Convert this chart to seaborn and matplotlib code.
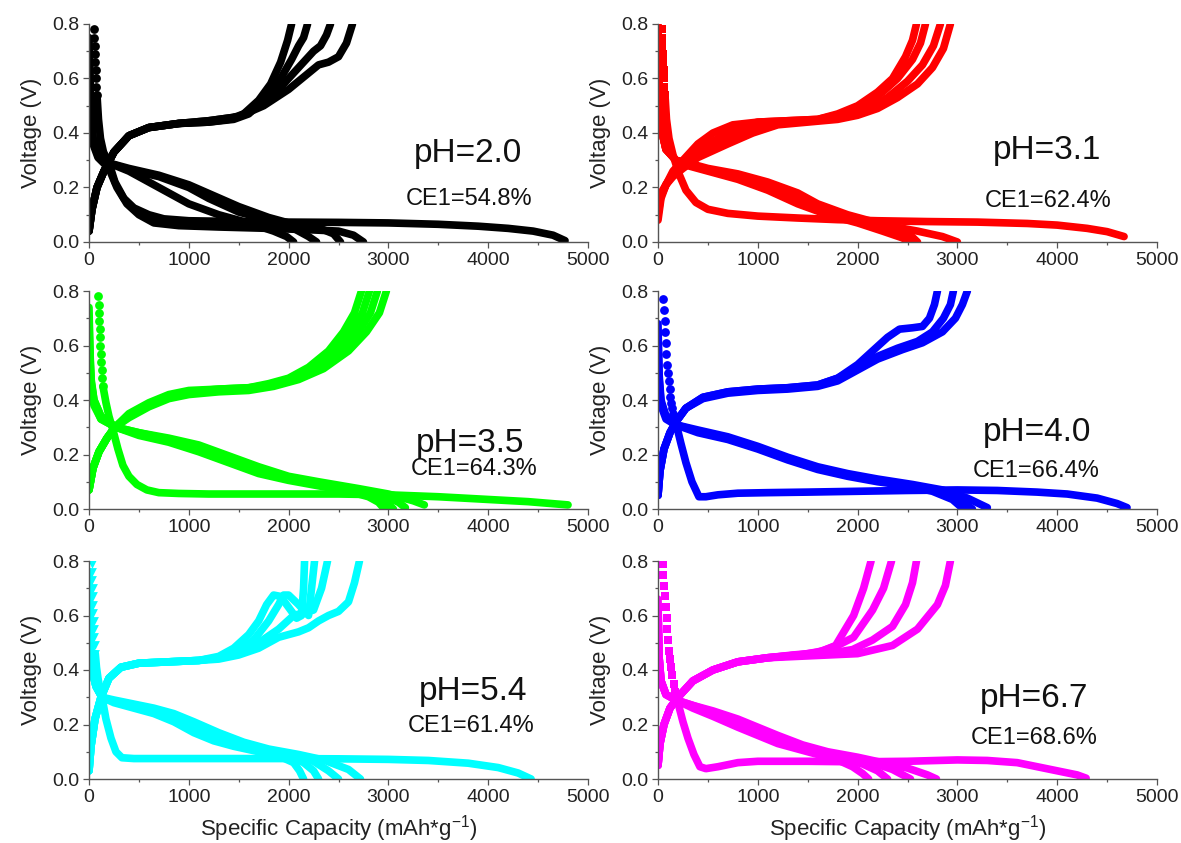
import matplotlib
matplotlib.use("Agg")
import matplotlib.pyplot as plt
import seaborn as sns
import pandas as pd
from matplotlib.ticker import MultipleLocator

sns.set_theme(style="white")
plt.rcParams["font.family"] = ["Liberation Sans", "DejaVu Sans"]

# ---------------- data ----------------
PH_LABELS = ["pH=2.0", "pH=3.1", "pH=3.5", "pH=4.0", "pH=5.4", "pH=6.7"]
CE_LABELS = ["CE1=54.8%", "CE1=62.4%", "CE1=64.3%", "CE1=66.4%", "CE1=61.4%", "CE1=68.6%"]
COLORS = ["#000000", "#FF0000", "#00FF00", "#0000FF", "#00FFFF", "#FF00FF"]
MARKERS = ["o", "s", "o", "o", "v", "s"]

# ---- pH 2.0 ----
PH20_DOTS_X = [50, 53, 56, 59, 62, 66, 70, 75, 80]
PH20_DOTS_Y = [0.78, 0.75, 0.72, 0.69, 0.66, 0.63, 0.60, 0.57, 0.54]
PH20_FIRST_X = [80, 95, 115, 145, 200, 260, 350, 450, 600, 750, 1000, 1500, 2000, 2500, 3000, 3500, 3900, 4200, 4450, 4650, 4770]
PH20_FIRST_Y = [0.54, 0.45, 0.38, 0.33, 0.29, 0.22, 0.16, 0.125, 0.10, 0.085, 0.078, 0.075, 0.073, 0.072, 0.070, 0.065, 0.058, 0.050, 0.040, 0.025, 0.005]
PH20_DIS_X = [
    [0, 15, 40, 90, 200, 400, 600, 800, 1000, 1300, 1600, 1850, 1980, 2050],
    [0, 15, 40, 90, 200, 400, 700, 1000, 1200, 1500, 1800, 2050, 2200, 2280],
    [0, 15, 40, 90, 200, 400, 700, 1000, 1250, 1500, 1800, 2100, 2350, 2450, 2520],
    [0, 15, 40, 90, 200, 280, 380, 500, 650, 900, 1300, 1800, 2200, 2500, 2650, 2750],
]
PH20_DIS_Y = [
    [0.70, 0.50, 0.38, 0.32, 0.29, 0.26, 0.22, 0.18, 0.14, 0.10, 0.07, 0.04, 0.02, 0.0],
    [0.72, 0.50, 0.38, 0.32, 0.29, 0.265, 0.24, 0.20, 0.16, 0.11, 0.08, 0.05, 0.02, 0.0],
    [0.75, 0.52, 0.38, 0.32, 0.29, 0.27, 0.245, 0.21, 0.17, 0.13, 0.09, 0.06, 0.045, 0.03, 0.0],
    [0.65, 0.45, 0.36, 0.31, 0.27, 0.20, 0.14, 0.10, 0.07, 0.06, 0.055, 0.05, 0.045, 0.04, 0.025, 0.0],
]
PH20_CHG_X = [
    [0, 30, 80, 150, 250, 400, 600, 900, 1200, 1400, 1550, 1700, 1820, 1920, 1990, 2030],
    [0, 30, 80, 150, 250, 400, 600, 900, 1200, 1450, 1600, 1780, 1920, 2030, 2100, 2150, 2190],
    [0, 30, 80, 150, 250, 400, 600, 900, 1200, 1500, 1700, 1900, 2100, 2250, 2320, 2380, 2420],
    [0, 30, 80, 150, 250, 400, 600, 900, 1200, 1500, 1750, 2000, 2200, 2300, 2400, 2500, 2580, 2640],
]
PH20_CHG_Y = [
    [0.04, 0.12, 0.20, 0.26, 0.33, 0.39, 0.42, 0.435, 0.44, 0.45, 0.47, 0.52, 0.58, 0.66, 0.74, 0.80],
    [0.04, 0.12, 0.20, 0.26, 0.33, 0.39, 0.42, 0.435, 0.44, 0.45, 0.47, 0.53, 0.60, 0.67, 0.72, 0.75, 0.80],
    [0.04, 0.12, 0.20, 0.26, 0.33, 0.39, 0.42, 0.435, 0.445, 0.46, 0.50, 0.56, 0.64, 0.70, 0.72, 0.76, 0.80],
    [0.04, 0.12, 0.20, 0.26, 0.33, 0.39, 0.42, 0.435, 0.445, 0.46, 0.50, 0.56, 0.62, 0.65, 0.66, 0.68, 0.73, 0.80],
]

# ---- pH 3.1 ----
PH31_DOTS_X = [40, 42, 45, 48, 52, 56, 60, 65, 70]
PH31_DOTS_Y = [0.78, 0.75, 0.72, 0.69, 0.66, 0.63, 0.60, 0.57, 0.54]
PH31_FIRST_X = [70, 85, 110, 150, 210, 280, 380, 500, 700, 1000, 1400, 1800, 2200, 2700, 3200, 3700, 4000, 4300, 4500, 4670]
PH31_FIRST_Y = [0.54, 0.45, 0.38, 0.32, 0.25, 0.19, 0.145, 0.12, 0.105, 0.095, 0.088, 0.082, 0.078, 0.075, 0.073, 0.068, 0.062, 0.050, 0.038, 0.020]
PH31_DIS_X = [
    [0, 10, 30, 80, 180, 300, 500, 800, 1100, 1400, 1700, 2000, 2250, 2450, 2520],
    [0, 10, 30, 80, 180, 300, 500, 800, 1100, 1400, 1600, 1900, 2200, 2450, 2560],
    [0, 10, 30, 80, 180, 300, 500, 800, 1100, 1400, 1600, 1900, 2200, 2500, 2600],
    [0, 10, 30, 80, 180, 300, 500, 800, 1100, 1400, 1700, 2000, 2300, 2600, 2850, 3000],
]
PH31_DIS_Y = [
    [0.80, 0.55, 0.42, 0.34, 0.30, 0.28, 0.26, 0.23, 0.19, 0.14, 0.10, 0.07, 0.04, 0.015, 0.0],
    [0.78, 0.55, 0.42, 0.34, 0.30, 0.285, 0.265, 0.24, 0.21, 0.165, 0.13, 0.09, 0.06, 0.03, 0.0],
    [0.75, 0.55, 0.42, 0.34, 0.30, 0.29, 0.27, 0.25, 0.22, 0.18, 0.14, 0.10, 0.07, 0.035, 0.0],
    [0.72, 0.55, 0.42, 0.34, 0.30, 0.285, 0.265, 0.24, 0.21, 0.16, 0.11, 0.08, 0.06, 0.04, 0.02, 0.0],
]
PH31_CHG_X = [
    [0, 30, 80, 150, 250, 400, 550, 750, 1000, 1300, 1600, 1800, 2000, 2200, 2350, 2480, 2550, 2590],
    [0, 30, 80, 150, 250, 400, 600, 800, 1000, 1300, 1600, 1850, 2050, 2250, 2400, 2550, 2630, 2680],
    [0, 30, 80, 150, 250, 400, 650, 900, 1100, 1400, 1700, 1900, 2100, 2300, 2500, 2650, 2760, 2830],
    [0, 30, 80, 150, 250, 400, 700, 950, 1200, 1500, 1800, 2000, 2200, 2400, 2600, 2750, 2860, 2930],
]
PH31_CHG_Y = [
    [0.08, 0.16, 0.21, 0.26, 0.30, 0.36, 0.40, 0.43, 0.44, 0.445, 0.45, 0.47, 0.50, 0.55, 0.60, 0.68, 0.74, 0.80],
    [0.10, 0.17, 0.21, 0.25, 0.29, 0.34, 0.38, 0.42, 0.44, 0.445, 0.45, 0.47, 0.50, 0.55, 0.60, 0.67, 0.73, 0.80],
    [0.12, 0.17, 0.21, 0.25, 0.28, 0.32, 0.37, 0.41, 0.43, 0.44, 0.45, 0.465, 0.49, 0.53, 0.59, 0.65, 0.72, 0.80],
    [0.14, 0.18, 0.21, 0.24, 0.27, 0.31, 0.36, 0.40, 0.43, 0.44, 0.45, 0.465, 0.49, 0.53, 0.58, 0.64, 0.71, 0.80],
]

# ---- pH 3.5 ----
PH35_DOTS_X = [95, 97, 100, 103, 106, 110, 114, 118, 123, 128, 134, 140]
PH35_DOTS_Y = [0.78, 0.75, 0.72, 0.69, 0.66, 0.63, 0.60, 0.57, 0.54, 0.51, 0.48, 0.45]
PH35_FIRST_X = [140, 170, 200, 240, 290, 340, 400, 480, 580, 700, 900, 1200, 1600, 2000, 2500, 3000, 3500, 4000, 4400, 4800]
PH35_FIRST_Y = [0.45, 0.39, 0.34, 0.29, 0.22, 0.16, 0.12, 0.09, 0.07, 0.06, 0.057, 0.055, 0.055, 0.055, 0.055, 0.052, 0.045, 0.035, 0.027, 0.015]
PH35_DIS_X = [
    [0, 8, 20, 50, 120, 270, 500, 800, 1100, 1400, 1700, 2000, 2300, 2600, 2800, 2900, 2960],
    [0, 8, 20, 50, 120, 270, 500, 800, 1100, 1400, 1700, 2000, 2300, 2600, 2850, 2980, 3050],
    [0, 8, 20, 50, 120, 270, 500, 800, 1100, 1400, 1700, 2000, 2300, 2650, 2950, 3100, 3170],
    [0, 8, 20, 50, 120, 270, 500, 800, 1100, 1400, 1700, 2000, 2300, 2700, 3000, 3250, 3360],
]
PH35_DIS_Y = [
    [0.74, 0.60, 0.48, 0.40, 0.34, 0.30, 0.27, 0.245, 0.21, 0.17, 0.13, 0.105, 0.085, 0.065, 0.045, 0.025, 0.0],
    [0.70, 0.58, 0.47, 0.40, 0.34, 0.30, 0.275, 0.25, 0.22, 0.18, 0.14, 0.11, 0.09, 0.07, 0.05, 0.025, 0.0],
    [0.66, 0.56, 0.46, 0.39, 0.33, 0.30, 0.28, 0.255, 0.23, 0.19, 0.15, 0.115, 0.095, 0.075, 0.05, 0.025, 0.005],
    [0.62, 0.54, 0.45, 0.38, 0.33, 0.30, 0.28, 0.26, 0.235, 0.195, 0.155, 0.12, 0.10, 0.075, 0.055, 0.03, 0.015],
]
PH35_CHG_X = [
    [0, 40, 100, 180, 260, 400, 600, 800, 1000, 1300, 1600, 1800, 2000, 2200, 2400, 2550, 2660, 2730],
    [0, 40, 100, 180, 260, 400, 600, 800, 1000, 1300, 1600, 1800, 2000, 2250, 2450, 2620, 2740, 2810],
    [0, 40, 100, 180, 260, 400, 600, 800, 1000, 1300, 1600, 1800, 2050, 2300, 2520, 2700, 2820, 2890],
    [0, 40, 100, 180, 260, 400, 600, 800, 1000, 1300, 1600, 1850, 2100, 2350, 2600, 2780, 2910, 2980],
]
PH35_CHG_Y = [
    [0.07, 0.15, 0.21, 0.26, 0.30, 0.35, 0.39, 0.42, 0.435, 0.44, 0.445, 0.46, 0.48, 0.52, 0.58, 0.65, 0.72, 0.80],
    [0.07, 0.15, 0.21, 0.26, 0.30, 0.345, 0.385, 0.415, 0.43, 0.44, 0.445, 0.455, 0.475, 0.52, 0.58, 0.65, 0.72, 0.80],
    [0.07, 0.15, 0.21, 0.26, 0.30, 0.34, 0.38, 0.41, 0.425, 0.435, 0.44, 0.45, 0.475, 0.52, 0.58, 0.65, 0.72, 0.80],
    [0.07, 0.15, 0.21, 0.26, 0.30, 0.335, 0.375, 0.405, 0.42, 0.43, 0.435, 0.45, 0.475, 0.515, 0.58, 0.65, 0.72, 0.80],
]

# ---- pH 4.0 ----
PH40_DOTS_X = [55, 60, 66, 72, 78, 85, 92, 100, 108, 116, 125, 135, 145, 155]
PH40_DOTS_Y = [0.77, 0.73, 0.69, 0.65, 0.61, 0.57, 0.53, 0.50, 0.47, 0.44, 0.41, 0.39, 0.37, 0.35]
PH40_FIRST_X = [155, 190, 230, 280, 340, 410, 480, 600, 800, 1100, 1500, 2000, 2500, 3000, 3400, 3800, 4100, 4400, 4600, 4700]
PH40_FIRST_Y = [0.35, 0.30, 0.24, 0.17, 0.10, 0.045, 0.045, 0.052, 0.058, 0.060, 0.062, 0.065, 0.068, 0.070, 0.068, 0.062, 0.055, 0.040, 0.020, 0.005]
PH40_DIS_X = [
    [0, 10, 30, 80, 170, 400, 700, 1000, 1300, 1600, 1900, 2200, 2500, 2750, 2950, 3060],
    [0, 10, 30, 80, 170, 400, 700, 1000, 1300, 1600, 1900, 2200, 2500, 2800, 3000, 3150],
    [0, 10, 30, 80, 170, 400, 700, 1000, 1300, 1600, 1900, 2200, 2550, 2850, 3100, 3300],
]
PH40_DIS_Y = [
    [0.68, 0.50, 0.40, 0.34, 0.31, 0.28, 0.255, 0.22, 0.18, 0.145, 0.12, 0.10, 0.085, 0.065, 0.035, 0.0],
    [0.64, 0.48, 0.39, 0.34, 0.31, 0.285, 0.26, 0.225, 0.185, 0.15, 0.125, 0.105, 0.088, 0.068, 0.04, 0.0],
    [0.60, 0.46, 0.38, 0.33, 0.31, 0.29, 0.265, 0.23, 0.19, 0.155, 0.13, 0.11, 0.09, 0.07, 0.04, 0.005],
]
PH40_CHG_X = [
    [0, 20, 60, 120, 180, 280, 450, 700, 1000, 1300, 1600, 1800, 2000, 2150, 2300, 2420, 2550, 2650, 2720, 2770, 2800],
    [0, 20, 60, 120, 180, 280, 450, 700, 1000, 1300, 1600, 1800, 2000, 2200, 2400, 2600, 2750, 2860, 2930, 2960],
    [0, 20, 60, 120, 180, 280, 450, 700, 1000, 1300, 1600, 1800, 2000, 2200, 2450, 2650, 2850, 2980, 3050, 3100],
]
PH40_CHG_Y = [
    [0.05, 0.14, 0.22, 0.28, 0.32, 0.37, 0.41, 0.43, 0.44, 0.445, 0.455, 0.48, 0.53, 0.58, 0.63, 0.66, 0.665, 0.67, 0.70, 0.75, 0.80],
    [0.05, 0.14, 0.22, 0.28, 0.32, 0.37, 0.41, 0.43, 0.44, 0.445, 0.455, 0.48, 0.52, 0.56, 0.59, 0.615, 0.65, 0.70, 0.75, 0.80],
    [0.05, 0.14, 0.22, 0.28, 0.32, 0.37, 0.405, 0.425, 0.435, 0.44, 0.45, 0.47, 0.51, 0.55, 0.585, 0.61, 0.65, 0.70, 0.75, 0.80],
]

# ---- pH 5.4 ----
PH54_DOTS_X = [30, 32, 34, 36, 38, 40, 43, 46, 50, 54, 58, 63]
PH54_DOTS_Y = [0.79, 0.76, 0.73, 0.70, 0.67, 0.64, 0.61, 0.58, 0.55, 0.52, 0.49, 0.46]
PH54_FIRST_X = [63, 75, 90, 110, 130, 170, 220, 270, 330, 450, 700, 1000, 1500, 2000, 2500, 3000, 3400, 3800, 4100, 4300, 4430]
PH54_FIRST_Y = [0.46, 0.41, 0.37, 0.33, 0.30, 0.22, 0.15, 0.10, 0.078, 0.075, 0.075, 0.075, 0.075, 0.075, 0.074, 0.072, 0.068, 0.058, 0.042, 0.022, 0.0]
PH54_DIS_X = [
    [0, 10, 30, 70, 130, 250, 450, 650, 850, 1050, 1250, 1450, 1700, 1900, 2050, 2110, 2150],
    [0, 10, 30, 70, 130, 250, 450, 650, 850, 1050, 1250, 1500, 1750, 2000, 2150, 2250, 2300],
    [0, 10, 30, 70, 130, 250, 450, 650, 850, 1050, 1300, 1550, 1800, 2050, 2250, 2400, 2500],
    [0, 10, 30, 70, 130, 250, 450, 650, 850, 1050, 1300, 1550, 1800, 2100, 2350, 2600, 2720],
]
PH54_DIS_Y = [
    [0.70, 0.52, 0.40, 0.34, 0.30, 0.28, 0.26, 0.24, 0.21, 0.17, 0.14, 0.12, 0.10, 0.085, 0.06, 0.03, 0.0],
    [0.72, 0.52, 0.40, 0.34, 0.30, 0.285, 0.265, 0.245, 0.22, 0.185, 0.15, 0.125, 0.105, 0.085, 0.06, 0.03, 0.0],
    [0.74, 0.52, 0.40, 0.34, 0.30, 0.285, 0.27, 0.25, 0.23, 0.20, 0.16, 0.13, 0.105, 0.085, 0.065, 0.03, 0.0],
    [0.76, 0.52, 0.40, 0.34, 0.30, 0.29, 0.275, 0.26, 0.24, 0.21, 0.17, 0.135, 0.11, 0.09, 0.07, 0.035, 0.0],
]
PH54_CHG_X = [
    [0, 20, 60, 120, 200, 320, 500, 800, 1100, 1300, 1450, 1600, 1700, 1780, 1850, 1920, 2000, 2080, 2130, 2150, 2160],
    [0, 20, 60, 120, 200, 320, 500, 800, 1100, 1300, 1500, 1650, 1800, 1900, 1950, 2000, 2100, 2200, 2230, 2260],
    [0, 20, 60, 120, 200, 320, 500, 800, 1100, 1300, 1500, 1700, 1900, 2050, 2150, 2250, 2330, 2390],
    [0, 20, 60, 120, 200, 320, 500, 800, 1100, 1300, 1500, 1700, 1900, 2100, 2200, 2300, 2400, 2500, 2600, 2660, 2710],
]
PH54_CHG_Y = [
    [0.03, 0.12, 0.22, 0.30, 0.37, 0.41, 0.425, 0.43, 0.435, 0.45, 0.48, 0.53, 0.58, 0.64, 0.675, 0.67, 0.63, 0.59, 0.60, 0.70, 0.80],
    [0.03, 0.12, 0.22, 0.30, 0.37, 0.41, 0.425, 0.43, 0.435, 0.445, 0.47, 0.51, 0.58, 0.64, 0.675, 0.675, 0.64, 0.60, 0.70, 0.80],
    [0.03, 0.12, 0.22, 0.30, 0.37, 0.41, 0.425, 0.43, 0.435, 0.445, 0.465, 0.50, 0.55, 0.60, 0.61, 0.62, 0.70, 0.80],
    [0.03, 0.12, 0.22, 0.30, 0.37, 0.41, 0.425, 0.43, 0.435, 0.44, 0.455, 0.48, 0.52, 0.54, 0.555, 0.58, 0.60, 0.615, 0.65, 0.72, 0.80],
]

# ---- pH 6.7 ----
PH67_DOTS_X = [50, 55, 62, 70, 78, 86, 95, 105, 115, 125, 135, 145, 158, 170]
PH67_DOTS_Y = [0.79, 0.75, 0.71, 0.67, 0.63, 0.59, 0.55, 0.51, 0.47, 0.44, 0.41, 0.38, 0.35, 0.32]
PH67_FIRST_X = [170, 200, 250, 300, 360, 420, 480, 600, 800, 1000, 1500, 2000, 2500, 2800, 3000, 3300, 3600, 3800, 4000, 4200, 4290]
PH67_FIRST_Y = [0.32, 0.28, 0.21, 0.15, 0.09, 0.045, 0.038, 0.045, 0.060, 0.065, 0.065, 0.063, 0.065, 0.068, 0.070, 0.068, 0.060, 0.045, 0.030, 0.015, 0.003]
PH67_DIS_X = [
    [0, 10, 30, 80, 180, 350, 550, 800, 1000, 1200, 1400, 1600, 1800, 1950, 2050, 2110],
    [0, 10, 30, 80, 180, 350, 550, 800, 1000, 1200, 1400, 1600, 1850, 2050, 2200, 2300],
    [0, 10, 30, 80, 180, 350, 550, 800, 1000, 1200, 1400, 1650, 1900, 2150, 2350, 2530],
    [0, 10, 30, 80, 180, 350, 550, 800, 1000, 1200, 1450, 1700, 2000, 2250, 2500, 2700, 2790],
]
PH67_DIS_Y = [
    [0.60, 0.45, 0.36, 0.31, 0.29, 0.26, 0.23, 0.19, 0.16, 0.13, 0.11, 0.09, 0.07, 0.045, 0.02, 0.0],
    [0.62, 0.45, 0.36, 0.31, 0.29, 0.265, 0.24, 0.20, 0.17, 0.14, 0.115, 0.095, 0.075, 0.055, 0.03, 0.0],
    [0.64, 0.45, 0.36, 0.31, 0.29, 0.27, 0.245, 0.21, 0.18, 0.15, 0.12, 0.10, 0.08, 0.06, 0.035, 0.0],
    [0.66, 0.45, 0.36, 0.31, 0.29, 0.27, 0.25, 0.22, 0.19, 0.16, 0.125, 0.10, 0.08, 0.06, 0.04, 0.015, 0.0],
]
PH67_CHG_X = [
    [0, 20, 60, 120, 200, 350, 550, 800, 1100, 1350, 1500, 1650, 1780, 1960, 2060, 2135],
    [0, 20, 60, 120, 200, 350, 550, 800, 1100, 1400, 1600, 1800, 1960, 2150, 2260, 2340],
    [0, 20, 60, 120, 200, 350, 550, 800, 1100, 1400, 1700, 1950, 2150, 2350, 2480, 2550, 2590],
    [0, 20, 60, 120, 200, 350, 550, 800, 1100, 1400, 1700, 2000, 2350, 2600, 2800, 2880, 2930],
]
PH67_CHG_Y = [
    [0.05, 0.13, 0.20, 0.26, 0.30, 0.36, 0.40, 0.43, 0.445, 0.455, 0.46, 0.47, 0.49, 0.60, 0.70, 0.80],
    [0.05, 0.13, 0.20, 0.26, 0.30, 0.36, 0.40, 0.43, 0.445, 0.455, 0.465, 0.49, 0.52, 0.62, 0.70, 0.80],
    [0.05, 0.13, 0.20, 0.26, 0.30, 0.36, 0.40, 0.43, 0.445, 0.455, 0.46, 0.475, 0.51, 0.56, 0.64, 0.72, 0.80],
    [0.05, 0.13, 0.20, 0.26, 0.30, 0.36, 0.40, 0.43, 0.445, 0.45, 0.455, 0.46, 0.49, 0.55, 0.64, 0.71, 0.80],
]

PANEL_DATA = [
    (PH20_DOTS_X, PH20_DOTS_Y, PH20_FIRST_X, PH20_FIRST_Y, PH20_DIS_X, PH20_DIS_Y, PH20_CHG_X, PH20_CHG_Y),
    (PH31_DOTS_X, PH31_DOTS_Y, PH31_FIRST_X, PH31_FIRST_Y, PH31_DIS_X, PH31_DIS_Y, PH31_CHG_X, PH31_CHG_Y),
    (PH35_DOTS_X, PH35_DOTS_Y, PH35_FIRST_X, PH35_FIRST_Y, PH35_DIS_X, PH35_DIS_Y, PH35_CHG_X, PH35_CHG_Y),
    (PH40_DOTS_X, PH40_DOTS_Y, PH40_FIRST_X, PH40_FIRST_Y, PH40_DIS_X, PH40_DIS_Y, PH40_CHG_X, PH40_CHG_Y),
    (PH54_DOTS_X, PH54_DOTS_Y, PH54_FIRST_X, PH54_FIRST_Y, PH54_DIS_X, PH54_DIS_Y, PH54_CHG_X, PH54_CHG_Y),
    (PH67_DOTS_X, PH67_DOTS_Y, PH67_FIRST_X, PH67_FIRST_Y, PH67_DIS_X, PH67_DIS_Y, PH67_CHG_X, PH67_CHG_Y),
]

# ---------------- layout ----------------
W, H = 1181, 843
fig = plt.figure(figsize=(W / 100, H / 100), dpi=100)
fig.patch.set_facecolor("white")

AX_LEFT_PX = [89, 658]
AX_TOP_PX = [24, 291, 561]
AX_W_PX, AX_H_PX = 499, 218

PH_POS = [(3800, 0.325), (3900, 0.335), (3820, 0.24), (3800, 0.28), (3850, 0.32), (3770, 0.295)]
CE_POS = [(3810, 0.158), (3910, 0.152), (3860, 0.145), (3790, 0.138), (3830, 0.193), (3770, 0.15)]

LW = 5.5
AXCOL = "#555555"


def frame(xs_list, ys_list, tag):
    rows = []
    for i, (xs, ys) in enumerate(zip(xs_list, ys_list)):
        for x, y in zip(xs, ys):
            rows.append((f"{tag}{i}", x, y))
    return pd.DataFrame(rows, columns=["curve", "cap", "volt"])


for k in range(6):
    r, c = divmod(k, 2)
    left = AX_LEFT_PX[c] / W
    bottom = 1 - (AX_TOP_PX[r] + AX_H_PX) / H
    ax = fig.add_axes([left, bottom, AX_W_PX / W, AX_H_PX / H])
    ax.set_facecolor("white")
    col = COLORS[k]
    dx, dy, fx, fy, disx, disy, chx, chy = PANEL_DATA[k]

    df = pd.concat([
        frame([fx], [fy], "first"),
        frame(disx, disy, "dis"),
        frame(chx, chy, "chg"),
    ], ignore_index=True)
    sns.lineplot(data=df, x="cap", y="volt", units="curve", estimator=None,
                 sort=False, color=col, lw=LW, ax=ax, legend=False,
                 solid_capstyle="round", solid_joinstyle="round")
    sns.scatterplot(x=dx, y=dy, marker=MARKERS[k], s=40, color=col,
                    edgecolor=col, linewidth=0, ax=ax, legend=False)

    ax.set_xlim(0, 5000)
    ax.set_ylim(0, 0.8)
    ax.xaxis.set_major_locator(MultipleLocator(1000))
    ax.xaxis.set_minor_locator(MultipleLocator(500))
    ax.yaxis.set_major_locator(MultipleLocator(0.2))
    ax.yaxis.set_minor_locator(MultipleLocator(0.1))
    ax.yaxis.set_major_formatter(matplotlib.ticker.FormatStrFormatter("%.1f"))
    sns.despine(ax=ax)
    for s in ("left", "bottom"):
        ax.spines[s].set_color(AXCOL)
        ax.spines[s].set_linewidth(1.0)
    ax.tick_params(which="both", direction="out", bottom=True, left=True,
                   color=AXCOL, width=0.9, labelsize=14, labelcolor="#222222")
    ax.tick_params(which="major", length=4, pad=3)
    ax.tick_params(which="minor", length=2.5)

    ax.set_ylabel("Voltage (V)", fontsize=16, color="#222222", labelpad=7)
    if r == 2:
        ax.set_xlabel(r"Specific Capacity (mAh*g$^{\mathregular{-1}}$)",
                      fontsize=16, color="#222222", labelpad=5)
    else:
        ax.set_xlabel("")

    ax.text(*PH_POS[k], PH_LABELS[k], fontsize=24, ha="center", va="center", color="#111111")
    ax.text(*CE_POS[k], CE_LABELS[k], fontsize=17, ha="center", va="center", color="#111111")

fig.savefig("out.png", dpi=100, facecolor="white")
